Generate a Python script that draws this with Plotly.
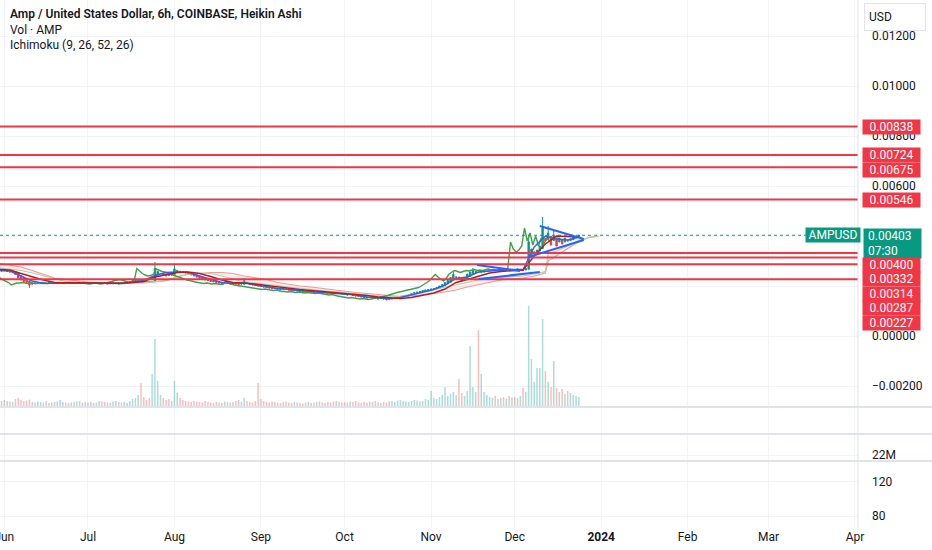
import pandas as pd
import plotly.graph_objects as go

# ---------------- data (prices in units of 1e-5 USD) ----------------
UNIT = 1e-5
FIRST_DAY = "2023-05-30"

# Heikin Ashi candles, one per day from 2023-05-30 to 2023-12-24
ha_open = [
    264, 262,
    261, 261, 259, 257, 258, 252, 242, 233, 226, 220, 212, 208, 210, 211, 212, 212, 211, 212, 212,
    211, 211, 212, 212, 211, 211, 211, 211, 212, 212, 211,
    211, 211, 211, 211, 212, 212, 211, 210, 209, 209, 210, 210, 209, 209, 210, 212, 215, 218, 221, 223,
    222, 220, 218, 216, 217, 243, 250, 250, 247, 244, 243,
    245, 256, 259, 258, 257, 254, 251, 248, 244, 240, 235, 231, 227, 225, 222, 219, 217, 214, 212, 212,
    211, 210, 210, 209, 208, 207, 215, 212, 209, 207, 204,
    202, 200, 198, 196, 194, 192, 191, 189, 188, 188, 187, 185, 183, 183, 182, 180, 179, 178, 178, 177,
    176, 176, 175, 174, 174, 173, 172, 171, 171, 171,
    170, 168, 166, 166, 164, 162, 160, 158, 156, 154, 154, 153, 152, 150, 150, 149, 148, 148, 149, 151,
    153, 155, 157, 160, 163, 167, 171, 174, 176, 179, 182,
    184, 186, 188, 191, 196, 201, 208, 215, 225, 235, 236, 231, 226, 229, 238, 247, 254, 256, 255, 256,
    259, 260, 262, 264, 263, 264, 263, 264, 266, 265,
    265, 265, 266, 266, 264, 267, 322, 335, 336, 340, 350, 391, 386, 399, 382, 391, 376, 384, 376, 384,
    382, 385, 392, 394,
]
ha_close = [
    262, 260,
    262, 258, 256, 260, 246, 232, 224, 218, 214, 204, 208, 212, 212, 214, 212, 210, 214, 212, 210,
    212, 214, 212, 210, 212, 210, 212, 214, 212, 210, 212,
    212, 210, 212, 214, 212, 210, 210, 208, 210, 212, 210, 208, 210, 212, 214, 218, 222, 224, 226, 222,
    218, 216, 214, 218, 270, 258, 250, 244, 240, 242, 248,
    268, 262, 258, 256, 252, 248, 244, 240, 236, 230, 226, 224, 222, 218, 216, 214, 212, 210, 212, 210,
    208, 210, 208, 206, 208, 222, 210, 206, 204, 202, 200,
    198, 196, 194, 192, 190, 190, 188, 186, 188, 186, 184, 182, 184, 180, 178, 178, 176, 178, 176, 174,
    176, 174, 172, 174, 172, 172, 170, 172, 170, 168,
    166, 164, 166, 162, 160, 158, 156, 154, 152, 154, 152, 150, 148, 150, 148, 146, 148, 150, 152, 154,
    156, 158, 162, 166, 170, 174, 176, 178, 182, 184, 186,
    188, 190, 194, 200, 206, 214, 222, 234, 246, 236, 226, 220, 232, 248, 256, 262, 258, 254, 258, 262,
    260, 264, 266, 262, 264, 262, 266, 268, 264, 266,
    264, 268, 266, 262, 270, 376, 348, 336, 344, 360, 432, 380, 412, 364, 400, 360, 392, 368, 392, 380,
    388, 398, 396, 403,
]
wick_high = {"2023-06-01": 268, "2023-07-25": 296, "2023-08-01": 290, "2023-08-26": 232,
             "2023-11-09": 262, "2023-11-16": 272, "2023-12-06": 400, "2023-12-11": 476,
             "2023-12-13": 440, "2023-12-15": 420}
wick_low = {"2023-06-10": 192, "2023-10-16": 142, "2023-12-08": 320}

# volume (millions AMP) per day
volume_m = [
    50, 60,
    70, 60, 55, 50, 80, 90, 70, 60, 65, 75, 50, 45, 55, 50, 45, 60, 40, 45, 50, 55,
    70, 50, 45, 40, 45, 50, 55, 60, 45, 50,
    45, 50, 40, 45, 60, 55, 50, 45, 40, 55, 60, 50, 45, 50, 40, 60, 80, 90, 120, 240,
    100, 70, 90, 330, 680, 260, 120, 90, 70, 80, 60,
    260, 140, 90, 70, 60, 55, 50, 60, 55, 50, 45, 60, 50, 45, 40, 50, 45, 40, 55, 50,
    45, 50, 60, 70, 55, 90, 60, 50, 45, 60, 240,
    80, 60, 50, 45, 55, 50, 45, 40, 50, 55, 45, 40, 50, 45, 40, 35, 45, 50, 40, 45,
    50, 55, 45, 40, 50, 45, 55, 60, 50, 45,
    50, 45, 55, 50, 60, 45, 40, 50, 45, 55, 50, 60, 45, 40, 50, 45, 55, 60, 50, 65,
    70, 60, 55, 50, 60, 70, 65, 55, 60, 80, 70,
    160, 90, 80, 100, 120, 200, 110, 130, 150, 120, 280, 140, 110, 160, 610, 200, 150, 770, 330, 150,
    120, 100, 90, 110, 80, 90, 100, 85, 110, 95,
    100, 90, 110, 190, 150, 1010, 480, 250, 390, 390, 880, 360, 250, 200, 460, 190, 150, 180, 130, 160,
    140, 120, 110, 100,
]

# Ichimoku conversion / base lines (sampled every 4 days)
ichi_dates = [
    "2023-05-30", "2023-06-03", "2023-06-07", "2023-06-11", "2023-06-15", "2023-06-19", "2023-06-23", "2023-06-27",
    "2023-07-01", "2023-07-05", "2023-07-09", "2023-07-13", "2023-07-17", "2023-07-21", "2023-07-25", "2023-07-29",
    "2023-08-02", "2023-08-06", "2023-08-10", "2023-08-14", "2023-08-18", "2023-08-22", "2023-08-26", "2023-08-30",
    "2023-09-03", "2023-09-07", "2023-09-11", "2023-09-15", "2023-09-19", "2023-09-23", "2023-09-27",
    "2023-10-01", "2023-10-05", "2023-10-09", "2023-10-13", "2023-10-17", "2023-10-21", "2023-10-25", "2023-10-29",
    "2023-11-02", "2023-11-06", "2023-11-10", "2023-11-14", "2023-11-18", "2023-11-22", "2023-11-26", "2023-11-30",
    "2023-12-04", "2023-12-08", "2023-12-12", "2023-12-16", "2023-12-20", "2023-12-24",
]
tenkan = [262, 260, 240, 220, 210, 212, 212, 212,
          211, 212, 210, 210, 216, 222, 242, 254,
          256, 254, 240, 226, 214, 210, 214, 204,
          196, 190, 186, 181, 177, 174, 171,
          168, 164, 156, 151, 149, 154, 164, 176,
          186, 204, 230, 236, 256, 260, 264, 266,
          266, 356, 400, 388, 384, 396]
kijun = [266, 264, 250, 236, 224, 214, 213, 212,
         212, 212, 212, 211, 214, 218, 236, 244,
         254, 256, 250, 238, 224, 214, 212, 208,
         202, 196, 190, 186, 182, 178, 174,
         172, 168, 162, 156, 152, 150, 154, 162,
         172, 188, 214, 226, 240, 252, 258, 262,
         264, 320, 368, 400, 398, 396]

# Ichimoku leading spans (already displaced forward)
cloud_dates = ichi_dates[:50] + ["2023-12-13", "2023-12-16", "2023-12-20", "2023-12-24", "2023-12-28", "2023-12-31"]
span_a = [272, 268, 262, 252, 240, 228, 218, 214,
          213, 212, 212, 211, 211, 212, 216, 220,
          236, 248, 252, 250, 240, 228, 216, 212,
          208, 202, 196, 190, 186, 182, 178,
          174, 168, 164, 160, 156, 160, 166, 174,
          186, 196, 204, 214, 224, 232, 234, 236,
          240, 248, 258, 330, 340, 360, 382, 394, 398]
span_b = [290, 284, 276, 262, 248, 232, 226, 220,
          216, 214, 214, 213, 212, 214, 218, 222,
          238, 246, 250, 254, 254, 250, 240, 232,
          226, 214, 206, 200, 196, 190, 184,
          180, 174, 170, 166, 162, 158, 160, 164,
          170, 176, 184, 196, 206, 216, 224, 228,
          232, 240, 252, 300, 320, 350, 378, 396, 400]

# horizontal levels drawn by the author (USD)
level_lines = [0.00838, 0.00724, 0.00675, 0.00546, 0.00332, 0.00314, 0.00287, 0.00227]
level_labels = [0.00838, 0.00724, 0.00675, 0.00546, 0.00400, 0.00332, 0.00314, 0.00287, 0.00227]
last_price = 0.00403
last_time = "07:30"

# blue trend lines (pennant + triangle)
trend_lines = [
    (("2023-11-17 12:00", 0.00284), ("2023-12-02 22:00", 0.00260)),
    (("2023-11-18 00:00", 0.00228), ("2023-12-10 00:00", 0.00256)),
    (("2023-12-10 00:00", 0.00440), ("2023-12-25 18:00", 0.00388)),
    (("2023-12-06 00:00", 0.00316), ("2023-12-25 18:00", 0.00384)),
]

month_ticks = ["2023-06-01", "2023-07-01", "2023-08-01", "2023-09-01", "2023-10-01", "2023-11-01",
               "2023-12-01", "2024-01-01", "2024-02-01", "2024-03-01", "2024-04-01"]
month_labels = ["Jun", "Jul", "Aug", "Sep", "Oct", "Nov", "Dec", "<b>2024</b>", "Feb", "Mar", "Apr"]
price_ticks = [-0.002, 0.0, 0.002, 0.004, 0.006, 0.008, 0.010, 0.012]
# 0.00200 / 0.00400 sit behind the price-label boxes in the reference
price_tick_text = ["\u22120.00200", "0.00000", "", "", "0.00600", "0.00800", "0.01000", "0.01200"]

# ---------------- layout constants ----------------
W, H = 932, 550
PLOT_W, PLOT_H = 858, 528
MAIN_H = 407
Y_MIN, Y_MAX = -0.00284, 0.01344
X_RANGE = ["2023-05-30 10:48", "2024-04-02 02:00"]
GREEN, RED, TEAL = "#089981", "#F23645", "#089981"
GRID = "#f2f3f6"
SEP = "#e0e3eb"
FONT = "Roboto"

def pf(px_from_top):
    return (PLOT_H - px_from_top) / PLOT_H

px_per_unit = MAIN_H / (Y_MAX - Y_MIN)

days = pd.date_range(FIRST_DAY, periods=len(ha_close), freq="D")
opens = [v * UNIT for v in ha_open]
closes = [v * UNIT for v in ha_close]
highs, lows = [], []
for d, o, c in zip(days, ha_open, ha_close):
    k = d.strftime("%Y-%m-%d")
    highs.append(wick_high.get(k, max(o, c)) * UNIT)
    lows.append(wick_low.get(k, min(o, c)) * UNIT)
vol_colors = ["rgba(38,166,154,0.38)" if c >= o else "rgba(239,83,80,0.38)" for o, c in zip(ha_open, ha_close)]
lag_x = days - pd.Timedelta(hours=156)

fig = go.Figure()
fig.add_trace(go.Bar(x=days, y=volume_m, marker=dict(color=vol_colors, line=dict(width=0)),
                     width=0.55 * 86400000, xaxis="x", yaxis="y5"))
fig.add_trace(go.Scatter(x=cloud_dates, y=[v * UNIT for v in span_b], mode="lines",
                         line=dict(color="#EF9A9A", width=1.2), xaxis="x", yaxis="y"))
fig.add_trace(go.Scatter(x=cloud_dates, y=[v * UNIT for v in span_a], mode="lines",
                         line=dict(color="#A5D6A7", width=1.2), fill="tonexty",
                         fillcolor="rgba(239,154,154,0.18)", xaxis="x", yaxis="y"))
fig.add_trace(go.Candlestick(x=days, open=opens, high=highs, low=lows, close=closes,
                             increasing=dict(line=dict(color=GREEN, width=1), fillcolor=GREEN),
                             decreasing=dict(line=dict(color=RED, width=1), fillcolor=RED),
                             whiskerwidth=0, xaxis="x", yaxis="y"))
fig.add_trace(go.Scatter(x=lag_x, y=closes, mode="lines", line=dict(color="#43A047", width=1.4),
                         xaxis="x", yaxis="y"))
fig.add_trace(go.Scatter(x=ichi_dates, y=[v * UNIT for v in tenkan], mode="lines",
                         line=dict(color="#2962FF", width=1.4), xaxis="x", yaxis="y"))
fig.add_trace(go.Scatter(x=ichi_dates, y=[v * UNIT for v in kijun], mode="lines",
                         line=dict(color="#B71C1C", width=1.4), xaxis="x", yaxis="y"))
for i in (2, 3, 4):
    fig.add_trace(go.Scatter(x=[None], y=[None], mode="lines", xaxis=f"x{i}", yaxis=f"y{i}"))

xcommon = dict(type="date", range=X_RANGE, tickvals=month_ticks, showgrid=True, gridcolor=GRID,
               zeroline=False, showline=False, fixedrange=True)
fig.update_layout(
    width=W, height=H, margin=dict(l=0, r=W - PLOT_W, t=0, b=H - PLOT_H, autoexpand=False),
    paper_bgcolor="white", plot_bgcolor="white", showlegend=False, hovermode=False,
    font=dict(family=FONT, size=12, color="#131722"),
    xaxis=dict(**xcommon, anchor="y", showticklabels=False, rangeslider=dict(visible=False)),
    xaxis2=dict(**xcommon, anchor="y2", matches="x", showticklabels=False),
    xaxis3=dict(**xcommon, anchor="y3", matches="x", showticklabels=False),
    xaxis4=dict(**xcommon, anchor="y4", matches="x", showticklabels=True, ticktext=month_labels,
                ticks="", ticklabeloverflow="allow", tickfont=dict(size=12, color="#131722")),
    yaxis=dict(domain=[pf(MAIN_H), 1], range=[Y_MIN, Y_MAX], side="right", tickvals=price_ticks,
               ticktext=price_tick_text, showgrid=True, gridcolor=GRID, zeroline=False,
               ticks="", ticklabelstandoff=13, ticklabeloverflow="allow",
               tickfont=dict(size=12, color="#131722")),
    yaxis2=dict(domain=[pf(434), pf(408)], range=[0, 1], showticklabels=False, showgrid=False, zeroline=False),
    yaxis3=dict(domain=[pf(461), pf(435)], range=[0, 1], side="right", tickvals=[0.23], ticktext=["22M"],
                showgrid=True, gridcolor=GRID, zeroline=False, ticks="", ticklabelstandoff=13,
                ticklabeloverflow="allow"),
    yaxis4=dict(domain=[0, pf(462)], range=[65.9, 143.5], side="right", tickvals=[80, 120],
                ticktext=["80", "120"], showgrid=True, gridcolor=GRID, zeroline=False, ticks="",
                ticklabelstandoff=13, ticklabeloverflow="allow"),
    yaxis5=dict(overlaying="y", range=[0, max(volume_m) * MAIN_H / 101], visible=False),
)

shapes = []
for lv in level_lines:
    shapes.append(dict(type="line", xref="paper", x0=0, x1=1, yref="y", y0=lv, y1=lv,
                       line=dict(color=RED, width=1.8)))
shapes.append(dict(type="line", xref="paper", x0=0, x1=1, yref="y", y0=last_price, y1=last_price,
                   line=dict(color=TEAL, width=1, dash="dot")))
for (d0, p0), (d1, p1) in trend_lines:
    shapes.append(dict(type="line", xref="x", yref="y", x0=d0, y0=p0, x1=d1, y1=p1,
                       line=dict(color="#2962FF", width=2)))
for ypx in (MAIN_H, 434, 461):
    shapes.append(dict(type="line", xref="paper", x0=0, x1=W / PLOT_W, yref="paper", y0=pf(ypx), y1=pf(ypx),
                       line=dict(color=SEP, width=2)))
shapes.append(dict(type="line", xref="paper", x0=1, x1=1, yref="paper", y0=0, y1=1,
                   line=dict(color=SEP, width=1)))
fig.update_layout(shapes=shapes)

ann = []
ann.append(dict(text="Amp / United States Dollar, 6h, COINBASE, Heikin Ashi", xref="paper", yref="paper",
                x=8 / PLOT_W, y=pf(14), xanchor="left", yanchor="middle", showarrow=False,
                font=dict(size=12, color="#131722", weight=600)))
ann.append(dict(text="Vol \u00b7 AMP", xref="paper", yref="paper", x=8 / PLOT_W, y=pf(30),
                xanchor="left", yanchor="middle", showarrow=False, font=dict(size=12, color="#131722")))
ann.append(dict(text="Ichimoku (9, 26, 52, 26)", xref="paper", yref="paper", x=8 / PLOT_W, y=pf(45),
                xanchor="left", yanchor="middle", showarrow=False, font=dict(size=12, color="#131722")))
ann.append(dict(text="USD", xref="paper", yref="paper", x=864 / PLOT_W, y=pf(17), xanchor="left",
                yanchor="middle", showarrow=False, width=52, height=18, align="left", borderpad=4,
                bordercolor="#e0e3eb", borderwidth=1, font=dict(size=12, color="#131722")))

# right-scale labels, pushed down when they would overlap
box_h = 14.6 / px_per_unit
label_x = 891.5 / PLOT_W
prev_bottom = 1.0
entries = sorted([(lv, "lvl") for lv in level_labels] + [(last_price, "last")], key=lambda t: -t[0])
for price, kind in entries:
    if kind == "lvl":
        center = min(price, prev_bottom - box_h / 2)
        ann.append(dict(text=f"{price:.5f}", xref="paper", yref="y", x=label_x, y=center,
                        xanchor="center", yanchor="middle", showarrow=False, bgcolor=RED,
                        width=57, height=14, borderpad=0, font=dict(size=12, color="white")))
        prev_bottom = center - box_h / 2
    else:
        center = min(price, prev_bottom - 7 / px_per_unit)
        top = center + 7 / px_per_unit
        ann.append(dict(text=f"\u00a0{price:.5f}<br>\u00a0{last_time}", xref="paper", yref="y",
                        x=863 / PLOT_W, y=top, xanchor="left", yanchor="top", showarrow=False,
                        bgcolor=TEAL, align="left", width=55, height=27, borderpad=1,
                        font=dict(size=12, color="white")))
        ann.append(dict(text="AMPUSD", xref="paper", yref="y", x=833 / PLOT_W, y=center,
                        xanchor="center", yanchor="middle", showarrow=False, bgcolor=TEAL,
                        width=54, height=14, borderpad=0, font=dict(size=12, color="white")))
        prev_bottom = top - 29 / px_per_unit
fig.update_layout(annotations=ann)

fig.write_html("out.html", config={"displayModeBar": False},
               post_script="document.body.style.margin='0';")
